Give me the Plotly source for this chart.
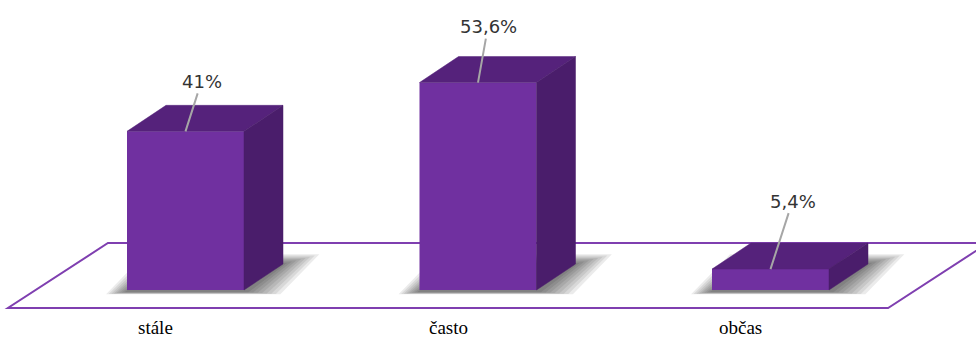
import plotly.graph_objects as go

# Survey answers and their shares (%)
categories = ["stále", "často", "občas"]
values = [41.0, 53.6, 5.4]
value_labels = ["41%", "53,6%", "5,4%"]

FRONT = "#7030A0"
TOP = "#55227B"
SIDE = "#4A1D6B"
FLOOR_LINE = "#7F3FB0"

# pixel -> data unit helpers (x: 292.5 px per category, y: 3.87 px per %)
PX_X = 1 / 292.5
PX_Y = 1 / 3.87

BAR_W = 0.4
DX = 39 * PX_X          # depth offset of the pseudo-3D boxes
DY = 26 * PX_Y

xs = list(range(len(categories)))

fig = go.Figure()
fig.add_trace(go.Bar(
    x=xs, y=values, width=BAR_W,
    marker=dict(color=FRONT, line=dict(width=0)),
    hoverinfo="skip",
))

shapes = []

# floor plane (parallelogram outline)
f_front = -4.65
f_back = 12.14
fl0 = xs[0] - 0.607
fr0 = xs[-1] + 0.402
fdx = 100 * PX_X
floor_path = (f"M {fl0},{f_front} L {fr0},{f_front} L {fr0 + fdx},{f_back} "
              f"L {fl0 + fdx},{f_back} Z")
shapes.append(dict(type="path", path=floor_path, layer="below",
                   line=dict(color=FLOOR_LINE, width=2), fillcolor="white"))

# soft shadows around each box footprint
for x in xs:
    xl, xr = x - BAR_W / 2, x + BAR_W / 2
    for k in range(1, 9):
        r = 3.5 * k
        left = xl - r * 0.75 * PX_X
        right = xr + r * 1.3 * PX_X
        bot = -(2 + r * 0.08) * PX_Y
        top = DY + r * 0.35 * PX_Y
        p = (f"M {left},{bot} L {right},{bot} L {right + DX},{top} "
             f"L {left + DX},{top} Z")
        shapes.append(dict(type="path", path=p, layer="below",
                           line=dict(width=0), fillcolor="rgba(0,0,0,0.08)"))

# top and side faces of each box
for x, v in zip(xs, values):
    xl, xr = x - BAR_W / 2, x + BAR_W / 2
    top = (f"M {xl},{v} L {xr},{v} L {xr + DX},{v + DY} L {xl + DX},{v + DY} Z")
    side = (f"M {xr},0 L {xr + DX},{DY} L {xr + DX},{v + DY} L {xr},{v} Z")
    shapes.append(dict(type="path", path=top, layer="above",
                       line=dict(color=TOP, width=0.5), fillcolor=TOP))
    shapes.append(dict(type="path", path=side, layer="above",
                       line=dict(color=SIDE, width=0.5), fillcolor=SIDE))

annotations = []
# value labels with leader lines
offsets = [(16, -50), (10, -56), (22, -68)]
for x, v, t, (ax, ay) in zip(xs, values, value_labels, offsets):
    annotations.append(dict(
        x=x, y=v, text=t, showarrow=True, ax=ax, ay=ay,
        arrowhead=0, arrowwidth=2, arrowcolor="#A6A6A6", standoff=0,
        font=dict(family="DejaVu Sans", size=18, color="#333333"),
    ))

# category labels under the floor
for x, c in zip(xs, categories):
    annotations.append(dict(
        x=x, y=-9.8, text=c, showarrow=False, xshift=-30,
        font=dict(family="Liberation Serif", size=19, color="black"),
    ))

fig.update_layout(
    width=976, height=340,
    margin=dict(l=0, r=0, t=0, b=0),
    paper_bgcolor="white", plot_bgcolor="white",
    showlegend=False,
    shapes=shapes, annotations=annotations,
    xaxis=dict(range=[-185.5 * PX_X, (976 - 185.5) * PX_X], visible=False,
               fixedrange=True),
    yaxis=dict(range=[-50 * PX_Y, 290 * PX_Y], visible=False, fixedrange=True),
)

fig.write_html("out.html")
